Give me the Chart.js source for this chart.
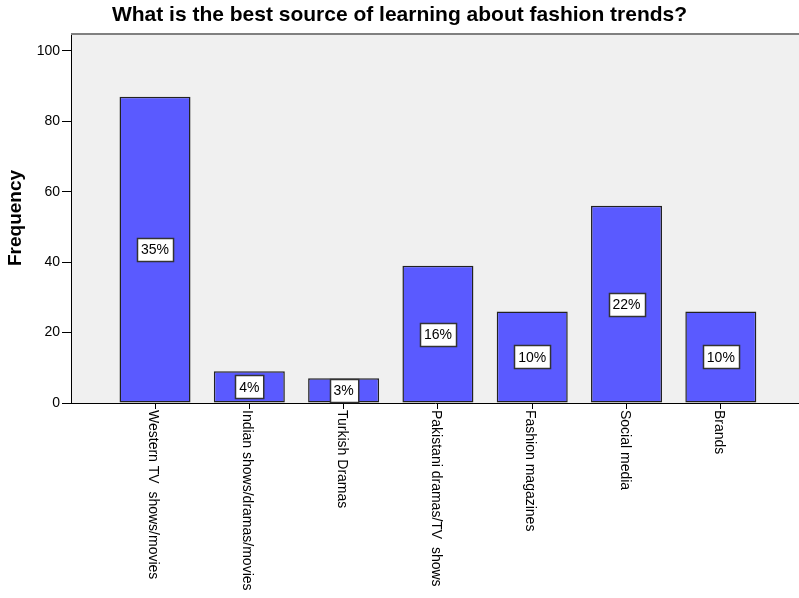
<!DOCTYPE html>
<html>
<head>
<meta charset="utf-8">
<title>Best source of learning about fashion trends</title>
<script src="https://cdn.jsdelivr.net/npm/chart.js@4.4.0/dist/chart.umd.min.js"></script>
<style>
    body { margin: 0; background: #fff; }
    #wrap { width: 799px; height: 598px; }
</style>
</head>
<body>
<div id="wrap"><canvas id="source-chart" width="799" height="598"></canvas></div>
<script>
const categories = [
    'Western TV  shows/movies',
    'Indian shows/dramas/movies',
    'Turkish Dramas',
    'Pakistani dramas/TV  shows',
    'Fashion magazines',
    'Social media',
    'Brands'
];
const frequency = [87, 9, 7, 39, 26, 56, 26];
const yTicks = [0, 20, 40, 60, 80, 100];

const total = frequency.reduce((a, b) => a + b, 0);
const FONT = "Arial, 'Liberation Sans', sans-serif";

// fundo cinza da área do gráfico + borda superior
const plotBackground = {
    id: 'plotBackground',
    beforeDraw(chart) {
        const { ctx, chartArea: a } = chart;
        ctx.save();
        ctx.fillStyle = '#f0f0f0';
        ctx.fillRect(a.left, a.top, a.right - a.left, a.bottom - a.top);
        ctx.restore();
    },
    afterDraw(chart) {
        const { ctx, chartArea: a } = chart;
        ctx.save();
        ctx.strokeStyle = '#808080';
        ctx.lineWidth = 2;
        ctx.beginPath();
        ctx.moveTo(a.left, a.top + 1);
        ctx.lineTo(a.right, a.top + 1);
        ctx.stroke();
        ctx.restore();
    }
};

// rótulos de percentagem no meio de cada barra
const percentLabels = {
    id: 'percentLabels',
    afterDatasetsDraw(chart) {
        const { ctx } = chart;
        const meta = chart.getDatasetMeta(0);
        ctx.save();
        ctx.font = '14px ' + FONT;
        ctx.textAlign = 'center';
        ctx.textBaseline = 'middle';
        meta.data.forEach((bar, i) => {
            const pct = Math.round(frequency[i] / total * 100) + '%';
            const cy = (bar.y + bar.base) / 2;
            const w = ctx.measureText(pct).width + 8;
            const h = 23;
            const x0 = Math.round(bar.x - w / 2) + 0.5;
            const y0 = Math.round(cy - h / 2) + 0.5;
            ctx.fillStyle = '#ffffff';
            ctx.fillRect(x0, y0, w, h);
            ctx.strokeStyle = '#333';
            ctx.lineWidth = 1.5;
            ctx.strokeRect(x0, y0, w, h);
            ctx.fillStyle = '#000';
            ctx.fillText(pct, bar.x, cy + 1);
        });
        ctx.restore();
    }
};

// nomes das categorias girados 90° (leitura de cima para baixo)
const categoryLabels = {
    id: 'categoryLabels',
    afterDraw(chart) {
        const { ctx, chartArea } = chart;
        const xScale = chart.scales.x;
        ctx.save();
        ctx.font = '14px ' + FONT;
        ctx.fillStyle = '#000';
        ctx.textAlign = 'left';
        ctx.textBaseline = 'middle';
        categories.forEach((label, i) => {
            const x = xScale.getPixelForValue(i) - 2;
            ctx.save();
            ctx.translate(x, chartArea.bottom + 7);
            ctx.rotate(Math.PI / 2);
            ctx.fillText(label, 0, 0);
            ctx.restore();
        });
        ctx.restore();
    }
};

const ctx = document.getElementById('source-chart').getContext('2d');
new Chart(ctx, {
    type: 'bar',
    data: {
        datasets: [{
            label: 'Frequency',
            data: frequency.map((v, i) => ({ x: i, y: v })),
            backgroundColor: '#5a5aff',
            borderColor: '#222',
            borderWidth: 1.5,
            borderSkipped: false,
            barPercentage: 0.753,
            categoryPercentage: 1
        }]
    },
    options: {
        responsive: false,
        animation: false,
        devicePixelRatio: 1,
        layout: { padding: 0 },
        plugins: {
            legend: { display: false },
            tooltip: { enabled: false },
            title: {
                display: true,
                text: 'What is the best source of learning about fashion trends?',
                color: '#000',
                font: { family: FONT, size: 21, weight: 'bold' },
                padding: { top: 3, bottom: 4.8 }
            }
        },
        scales: {
            x: {
                type: 'linear',
                offset: false,
                min: -0.891,
                max: 6.829,
                afterBuildTicks: scale => {
                    scale.ticks = categories.map((c, i) => ({ value: i }));
                },
                afterFit: scale => { scale.height = 195; },
                ticks: { display: false },
                grid: { offset: false, drawOnChartArea: false, drawTicks: true, tickLength: 6, color: '#000' },
                border: { display: true, color: '#000', width: 1 }
            },
            y: {
                min: 0,
                max: 105.1,
                afterBuildTicks: scale => {
                    scale.ticks = yTicks.map(v => ({ value: v }));
                },
                afterFit: scale => { scale.width = 71; },
                ticks: {
                    color: '#000',
                    padding: 2,
                    font: { family: FONT, size: 14 }
                },
                grid: { drawOnChartArea: false, drawTicks: true, tickLength: 9, color: '#000' },
                border: { display: true, color: '#000', width: 1 },
                title: {
                    display: true,
                    text: 'Frequency',
                    color: '#000',
                    font: { family: FONT, size: 19, weight: 'bold' },
                    padding: { top: 4 }
                }
            }
        }
    },
    plugins: [plotBackground, percentLabels, categoryLabels]
});
</script>
</body>
</html>
